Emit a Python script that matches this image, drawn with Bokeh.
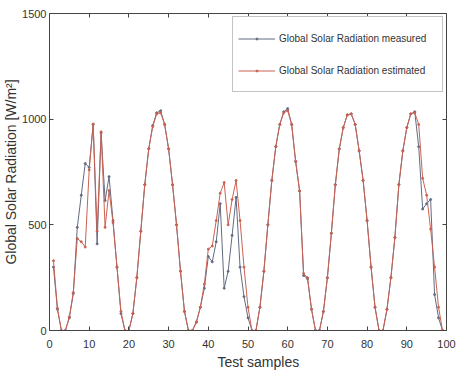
from bokeh.plotting import figure
from bokeh.models import Range1d, FixedTicker, LinearAxis, Title
from bokeh.embed import file_html
from bokeh.resources import INLINE

samples = list(range(1, 100))
measured = [300, 100, 0, 0, 60, 175, 488, 640, 790, 772,
            975, 410, 935, 615, 728, 520, 300, 80, 0, 0,
            80, 250, 470, 690, 860, 970, 1030, 1040, 975, 860,
            690, 500, 280, 90, 0, 0, 40, 110, 200, 350,
            325, 420, 600, 200, 280, 450, 630, 300, 160, 60,
            0, 0, 110, 280, 500, 710, 870, 975, 1035, 1050,
            975, 800, 660, 260, 245, 100, 0, 0, 90, 250,
            460, 690, 860, 960, 1020, 1025, 975, 850, 710, 520,
            300, 110, 0, 0, 100, 250, 440, 690, 850, 960,
            1025, 1035, 870, 575, 600, 620, 170, 60, 0]
estimated = [330, 105, 0, 0, 65, 180, 435, 420, 395, 760,
             977, 470, 940, 488, 662, 510, 300, 90, 0, 0,
             80, 250, 470, 690, 860, 965, 1025, 1030, 975, 860,
             690, 500, 280, 90, 0, 0, 40, 110, 220, 385,
             400, 520, 650, 700, 500, 620, 710, 520, 300, 110,
             0, 0, 110, 280, 500, 710, 870, 975, 1030, 1040,
             975, 800, 660, 270, 250, 100, 0, 0, 90, 250,
             460, 690, 860, 960, 1020, 1025, 975, 850, 710, 520,
             300, 110, 0, 0, 100, 250, 440, 690, 850, 960,
             1025, 1030, 975, 720, 640, 480, 300, 110, 0]
x_ticks = [0, 10, 20, 30, 40, 50, 60, 70, 80, 90, 100]
y_ticks = [0, 500, 1000, 1500]
label_measured = "Global Solar Radiation measured"
label_estimated = "Global Solar Radiation estimated"
x_title = "Test samples"
y_title = "Global Solar Radiation [W/m\u00b2]"

FONT = "Liberation Sans"
C_M = "#626b80"
C_E = "#cc6152"
AX = "#444444"

p = figure(width=457, height=375, output_backend="svg", toolbar_location=None,
           x_range=Range1d(0, 100), y_range=Range1d(0, 1500),
           min_border_left=48, min_border_right=11, min_border_top=13, min_border_bottom=45)
p.grid.visible = False
p.outline_line_color = AX
p.outline_line_width = 1

def style_axis(ax, ticks, labels=True):
    ax.major_tick_in = 4
    ax.major_tick_out = 0
    ax.minor_tick_line_color = None
    ax.axis_line_color = AX
    ax.major_tick_line_color = AX
    if labels:
        ax.major_label_text_font = FONT
        ax.major_label_text_font_size = "11px"
        ax.major_label_text_color = "#333333"
    else:
        ax.major_label_overrides = {t: "" for t in ticks}
        ax.major_label_standoff = 0

p.xaxis.ticker = FixedTicker(ticks=x_ticks)
p.yaxis.ticker = FixedTicker(ticks=y_ticks)
style_axis(p.xaxis[0], x_ticks)
style_axis(p.yaxis[0], y_ticks)
p.xaxis.major_label_standoff = 9
p.yaxis.major_label_standoff = 3
p.yaxis.axis_label = y_title
p.yaxis.axis_label_text_font = FONT
p.yaxis.axis_label_text_font_size = "14px"
p.yaxis.axis_label_text_font_style = "normal"
p.yaxis.axis_label_text_color = "#333333"
p.yaxis.axis_label_standoff = 0

top_ax = LinearAxis(ticker=FixedTicker(ticks=x_ticks))
style_axis(top_ax, x_ticks, labels=False)
p.add_layout(top_ax, "above")
right_ax = LinearAxis(ticker=FixedTicker(ticks=y_ticks))
style_axis(right_ax, y_ticks, labels=False)
p.add_layout(right_ax, "right")

xt = Title(text=x_title, align="left", offset=168, text_font=FONT, text_font_size="14px",
           text_font_style="normal", text_color="#333333", standoff=2)
p.add_layout(xt, "below")

p.line(samples, measured, line_color=C_M, line_width=1, legend_label=label_measured)
p.scatter(samples, measured, size=2, color=C_M, legend_label=label_measured)
p.line(samples, estimated, line_color=C_E, line_width=1, legend_label=label_estimated)
p.scatter(samples, estimated, size=2, color=C_E, legend_label=label_estimated)

lg = p.legend[0]
lg.location = "top_right"
lg.margin = 3
lg.padding = 5
lg.spacing = 0
lg.glyph_width = 37
lg.glyph_height = 5
lg.label_height = 32
lg.label_width = 158
lg.label_standoff = 4
lg.label_text_font = FONT
lg.label_text_font_size = "10px"
lg.label_text_color = "#333333"
lg.border_line_color = "#888888"
lg.border_line_width = 1
lg.background_fill_color = "white"
lg.background_fill_alpha = 1

open("out.html", "w").write(file_html(p, INLINE))
